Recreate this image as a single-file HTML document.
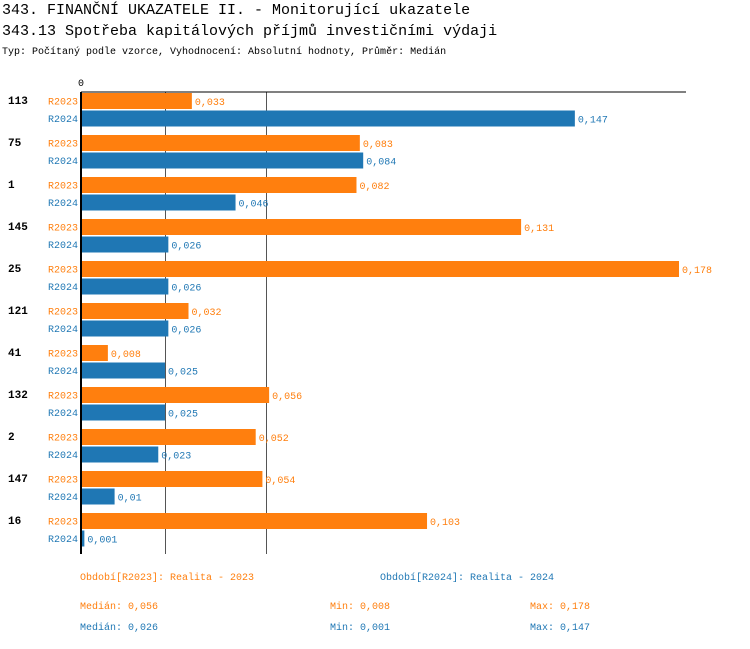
<!DOCTYPE html>
<html><head><meta charset="utf-8"><style>
body{margin:0;width:750px;height:644px;background:#fff;font-family:"Liberation Mono",monospace;overflow:hidden}
svg text{font-family:"Liberation Mono",monospace}
</style></head><body>
<svg width="750" height="644">
<text x="2" y="14" font-size="15">343. FINANČNÍ UKAZATELE II. - Monitorující ukazatele</text>
<text x="2" y="35" font-size="15">343.13 Spotřeba kapitálových příjmů investičními výdaji</text>
<text x="2" y="54" font-size="10">Typ: Počítaný podle vzorce, Vyhodnocení: Absolutní hodnoty, Průměr: Medián</text>
<g id="plot"></g>
<text x="80" y="580" font-size="10" fill="#ff7f0e">Období[R2023]: Realita - 2023</text>
<text x="380" y="580" font-size="10" fill="#1f77b4">Období[R2024]: Realita - 2024</text>
<text x="80" y="609" font-size="10" fill="#ff7f0e">Medián: 0,056</text>
<text x="330" y="609" font-size="10" fill="#ff7f0e">Min: 0,008</text>
<text x="530" y="609" font-size="10" fill="#ff7f0e">Max: 0,178</text>
<text x="80" y="630" font-size="10" fill="#1f77b4">Medián: 0,026</text>
<text x="330" y="630" font-size="10" fill="#1f77b4">Min: 0,001</text>
<text x="530" y="630" font-size="10" fill="#1f77b4">Max: 0,147</text>
</svg>
<script>
const categories=["113","75","1","145","25","121","41","132","2","147","16"];
const r2023=[0.033,0.083,0.082,0.131,0.178,0.032,0.008,0.056,0.052,0.054,0.103];
const r2024=[0.147,0.084,0.046,0.026,0.026,0.026,0.025,0.025,0.023,0.01,0.001];
const medians=[0.056,0.026];
const NS="http://www.w3.org/2000/svg";
const plotG=document.getElementById('plot');
const x0=81, k=598/0.178, yTop=92, step=42, yBottom=554;
const xs=v=>x0+v*k;
const fmt=v=>String(v).replace('.',',');
function mk(t,a){const e=document.createElementNS(NS,t);for(const q in a)e.setAttribute(q,a[q]);plotG.appendChild(e);return e;}
const C=["#ff7f0e","#1f77b4"];
[0,1].forEach(i=>{
 const lx=Math.round(xs(medians[i]))-2.5;
 const l=mk('line',{x1:lx,x2:lx,y1:yTop,y2:yBottom,stroke:"#555","stroke-width":1});
 
 
});
categories.forEach((c,i)=>{
 const y=yTop+i*step;
 const t=mk('text',{x:8,y:y+12,"font-size":"11","font-weight":"bold"});t.textContent=c;
 
 
 [r2023[i],r2024[i]].forEach((v,j)=>{
  const by=y+1+j*17.5;
  const lab=mk('text',{x:78,y:by+11.5,"font-size":"10",fill:C[j],"text-anchor":"end"});lab.textContent=j?"R2024":"R2023";
  
  
  const r=mk('rect',{x:x0,y:by,width:Math.max(xs(v)-x0,0),height:16,fill:C[j]});
  
  
  const vt=mk('text',{x:xs(v)+3,y:by+12,"font-size":"10",fill:C[j]});vt.textContent=fmt(v);
  
  
 });
});
const ax=mk('line',{x1:x0,x2:686,y1:yTop,y2:yTop,stroke:"#000","stroke-width":1});


const ay=mk('line',{x1:x0,x2:x0,y1:yTop,y2:yBottom,stroke:"#000","stroke-width":2});


const z=mk('text',{x:x0,y:86,"font-size":"10","text-anchor":"middle"});z.textContent="0";


</script>
</body></html>
